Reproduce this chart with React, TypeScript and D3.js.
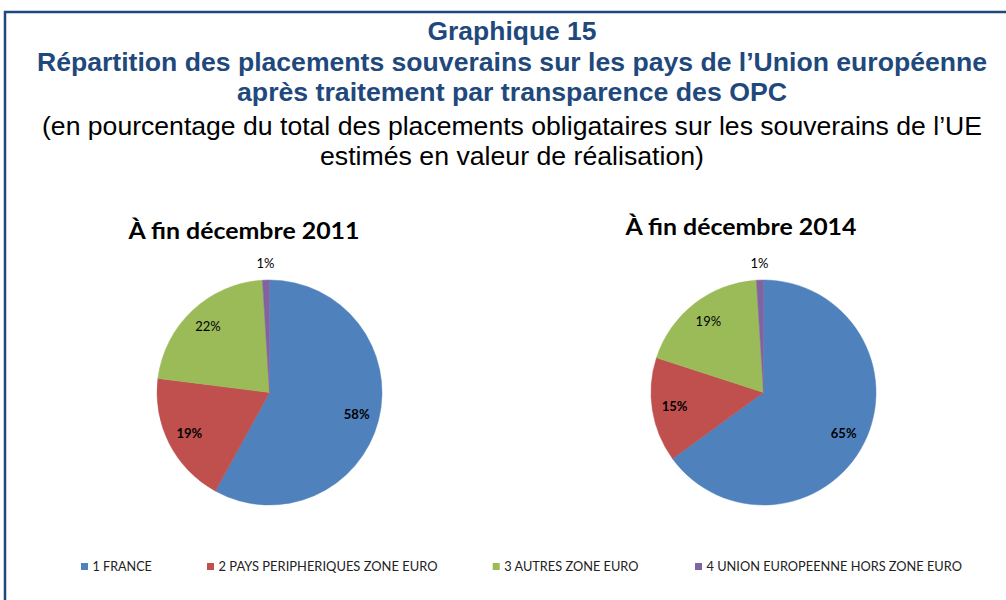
import React from "react";
import * as d3 from "d3";

const categories = [
  "1 FRANCE",
  "2 PAYS PERIPHERIQUES ZONE EURO",
  "3 AUTRES ZONE EURO",
  "4 UNION EUROPEENNE HORS ZONE EURO",
];
const colors = ["#4F81BD", "#C0504D", "#9BBB59", "#8064A2"];
const values2011 = [58, 19, 22, 1];
const values2014 = [65, 15, 19, 1];
const pieTitles = ["À fin décembre 2011", "À fin décembre 2014"];
const boldLabel = [true, true, false, false];

const titleLines = [
  "Graphique 15",
  "Répartition des placements souverains sur les pays de l’Union européenne",
  "après traitement par transparence des OPC",
];
const subtitleLines = [
  "(en pourcentage du total des placements obligataires sur les souverains de l’UE",
  "estimés en valeur de réalisation)",
];

const W = 1006;
const H = 600;
const BLUE = "#1F497D";
const calibri = "Lato, 'Open Sans', sans-serif";
const titleWidths = [169, 950, 550];
const subtitleWidths = [940, 384];
const legendWidths = [59.4, 219, 134.3, 255.4];
const legendX = [81, 207, 492.7, 695];

function Pie({ values, cx, cy, r, title, titleX, titleY }: any) {
  const pie = d3.pie<number>().sort(null).value((d) => d);
  const arcs = pie(values);
  const arc = d3.arc<d3.PieArcDatum<number>>().innerRadius(0).outerRadius(r);
  const inner = d3.arc<d3.PieArcDatum<number>>().innerRadius(r * 0.8).outerRadius(r * 0.8);
  const outer = d3.arc<d3.PieArcDatum<number>>().innerRadius(r + 17).outerRadius(r + 17);
  return (
    <g>
      <text
        x={titleX}
        y={titleY}
        textAnchor="middle"
        fontFamily={calibri}
        fontWeight="bold"
        fontSize={23}
        textLength={231}
        lengthAdjust="spacingAndGlyphs"
        fill="#000"
      >
        {title}
      </text>
      <g transform={`translate(${cx},${cy})`}>
        {arcs.map((a, i) => (
          <path key={i} d={arc(a) || ""} fill={colors[i]} stroke={colors[i]} strokeWidth={0.5} />
        ))}
        {arcs.map((a, i) => {
          const small = a.data < 3;
          const [x, y] = small ? outer.centroid(a) : inner.centroid(a);
          return (
            <text
              key={"l" + i}
              x={x}
              y={y}
              dy="0.35em"
              textAnchor="middle"
              fontFamily={calibri}
              fontSize={13}
              fontWeight={boldLabel[i] ? "bold" : "normal"}
              fill="#000"
            >
              {`${a.data}%`}
            </text>
          );
        })}
      </g>
    </g>
  );
}

export default function App() {
  return (
    <svg
      width={W}
      height={H}
      style={{ position: "absolute", left: 0, top: 0, background: "#fff" }}
    >
      <rect x={0} y={0} width={W} height={H} fill="#fff" />
      <path d={`M5,${H} V12 H${W}`} fill="none" stroke={BLUE} strokeWidth={2.5} />
      {titleLines.map((t, i) => (
        <text
          key={t}
          x={512}
          y={40 + i * 30.5}
          textAnchor="middle"
          fontFamily="'Liberation Sans', Arial, sans-serif"
          fontWeight="bold"
          fontSize={25}
          textLength={titleWidths[i]}
          lengthAdjust="spacingAndGlyphs"
          fill={BLUE}
        >
          {t}
        </text>
      ))}
      {subtitleLines.map((t, i) => (
        <text
          key={t}
          x={512}
          y={135 + i * 30}
          textAnchor="middle"
          fontFamily="'Liberation Sans', Arial, sans-serif"
          fontSize={25}
          textLength={subtitleWidths[i]}
          lengthAdjust="spacingAndGlyphs"
          fill="#000"
        >
          {t}
        </text>
      ))}
      <Pie values={values2011} cx={269.5} cy={392.5} r={112.5} title={pieTitles[0]} titleX={244} titleY={239} />
      <Pie values={values2014} cx={763.5} cy={392.5} r={112.5} title={pieTitles[1]} titleX={741} titleY={235} />
      {categories.map((c, i) => (
        <g key={c}>
          <rect x={legendX[i]} y={563} width={7} height={7} fill={colors[i]} />
          <text
            x={legendX[i] + 11.5}
            y={571}
            fontFamily={calibri}
            fontSize={12.5}
            textLength={legendWidths[i]}
            lengthAdjust="spacingAndGlyphs"
            fill="#222"
          >
            {c}
          </text>
        </g>
      ))}
    </svg>
  );
}
